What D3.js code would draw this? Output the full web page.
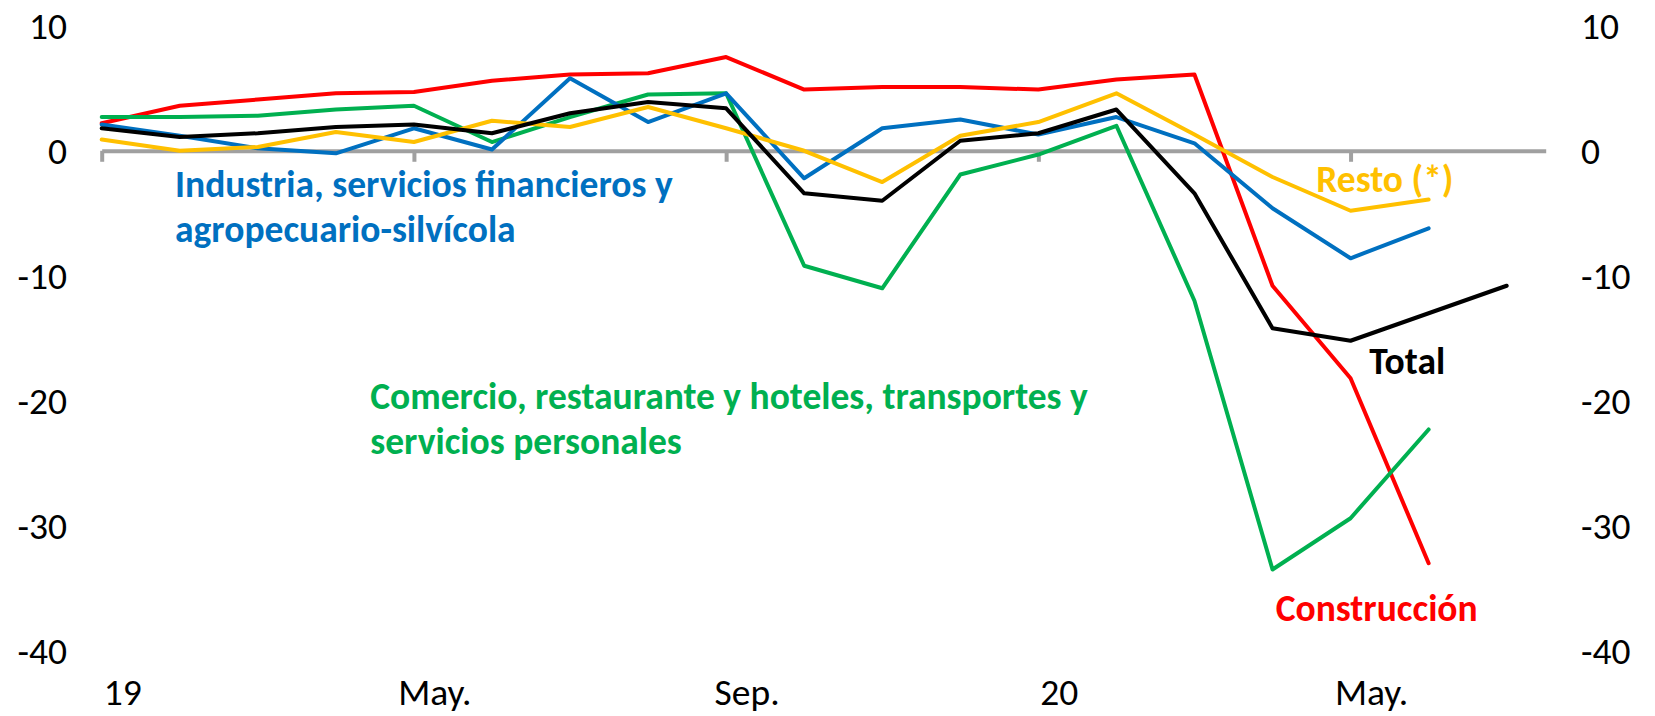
<!DOCTYPE html>
<html>
<head>
<meta charset="utf-8">
<script src="https://cdn.jsdelivr.net/npm/d3@7"></script>
<style>
  html, body { margin: 0; padding: 0; background: #fff; }
  svg { display: block; }
  text { font-family: Carlito, "Liberation Sans Narrow", "DejaVu Sans Condensed", "Open Sans", sans-serif; }
</style>
</head>
<body>
<svg id="chart" width="1655" height="716"></svg>
<script>
// monthly categories, Jan 2019 .. Jul 2020
const months = ["Ene.19", "Feb.", "Mar.", "Abr.", "May.", "Jun.", "Jul.", "Ago.", "Sep.", "Oct.", "Nov.", "Dic.",
                "Ene.20", "Feb.", "Mar.", "Abr.", "May.", "Jun.", "Jul."];
const tickIdx = [0, 4, 8, 12, 16];
const tickLabels = ["19", "May.", "Sep.", "20", "May."];
const yTicks = [10, 0, -10, -20, -30, -40];

const construccion = [2.2, 3.6, 4.1, 4.6, 4.7, 5.6, 6.1, 6.2, 7.5, 4.9, 5.1, 5.1, 4.9, 5.7, 6.1, -10.8, -18.2, -33.0];
const comercio     = [2.7, 2.7, 2.8, 3.3, 3.6, 0.7, 2.7, 4.5, 4.6, -9.2, -11.0, -1.9, -0.3, 2.0, -12.0, -33.5, -29.4, -22.3];
const industria    = [2.1, 1.2, 0.2, -0.2, 1.8, 0.1, 5.8, 2.3, 4.6, -2.2, 1.8, 2.5, 1.3, 2.7, 0.6, -4.6, -8.6, -6.2];
const resto        = [0.9, 0.0, 0.3, 1.5, 0.7, 2.4, 1.9, 3.5, 1.8, 0.0, -2.5, 1.2, 2.3, 4.6, 1.3, -2.1, -4.8, -3.9];
const total        = [1.8, 1.1, 1.4, 1.9, 2.1, 1.4, 3.0, 3.9, 3.4, -3.4, -4.0, 0.8, 1.4, 3.3, -3.4, -14.2, -15.2, -13.0, -10.8];

const series = [
  { name: "Construcción", values: construccion, color: "#FF0000" },
  { name: "Comercio", values: comercio, color: "#00B050" },
  { name: "Industria", values: industria, color: "#0070C0" },
  { name: "Resto", values: resto, color: "#FFC000" },
  { name: "Total", values: total, color: "#000000" }
];

// annotations, placed in data units (x = month index, y = value at baseline)
const notes = [
  { lines: ["Industria, servicios financieros y", "agropecuario-silvícola"], x: 0.94, y: -3.7, color: "#0070C0" },
  { lines: ["Comercio, restaurante y hoteles, transportes y", "servicios personales"], x: 3.44, y: -20.7, color: "#00B050" },
  { lines: ["Resto (*)"], x: 15.56, y: -3.3, color: "#FFC000" },
  { lines: ["Total"], x: 16.24, y: -17.86, color: "#000000" },
  { lines: ["Construcción"], x: 15.04, y: -37.6, color: "#FF0000" }
];

const svg = d3.select("#chart");
const fontSize = 37.5;

const x = d3.scaleLinear().domain([0, 18.5]).range([101.7, 1545.7]);
const y = d3.scaleLinear().domain([-40, 10]).range([650.7, 25.8]);

// y labels, both sides
svg.append("g").selectAll("text")
  .data(yTicks).enter().append("text")
  .attr("x", 67).attr("y", d => y(d))
  .attr("dy", "0.35em")
  .attr("text-anchor", "end")
  .style("font-size", fontSize + "px")
  .text(d => d);

svg.append("g").selectAll("text")
  .data(yTicks).enter().append("text")
  .attr("x", 1581).attr("y", d => y(d))
  .attr("dy", "0.35em")
  .attr("text-anchor", "start")
  .style("font-size", fontSize + "px")
  .text(d => d);

// zero axis with ticks every 4 months
const xAxis = d3.axisBottom(x)
  .tickValues(tickIdx)
  .tickSize(11)
  .tickSizeOuter(0)
  .tickFormat("");

const axisG = svg.append("g")
  .attr("transform", `translate(0,${y(0)})`)
  .call(xAxis);
axisG.select(".domain").attr("stroke", "#A0A0A0").attr("stroke-width", 4);
axisG.selectAll(".tick line").attr("stroke", "#A0A0A0").attr("stroke-width", 4);

// month labels at the bottom
svg.append("g").selectAll("text")
  .data(tickIdx).enter().append("text")
  .attr("x", d => x(d) + 21)
  .attr("y", 705)
  .attr("text-anchor", "middle")
  .style("font-size", fontSize + "px")
  .text((d, i) => tickLabels[i]);

// series lines
const line = d3.line()
  .x((d, i) => x(i))
  .y(d => y(d));

svg.append("g").selectAll("path")
  .data(series).enter().append("path")
  .attr("d", d => line(d.values))
  .attr("fill", "none")
  .attr("stroke", d => d.color)
  .attr("stroke-width", 4)
  .attr("stroke-linejoin", "round")
  .attr("stroke-linecap", "round");

// annotations
const noteG = svg.append("g");
notes.forEach(n => {
  const t = noteG.append("text")
    .attr("x", x(n.x))
    .attr("y", y(n.y))
    .attr("fill", n.color)
    .style("font-size", fontSize + "px")
    .style("font-weight", "bold");
  n.lines.forEach((s, i) => {
    t.append("tspan")
      .attr("x", x(n.x))
      .attr("dy", i === 0 ? 0 : 44.5)
      .text(s);
  });
});
</script>
</body>
</html>
